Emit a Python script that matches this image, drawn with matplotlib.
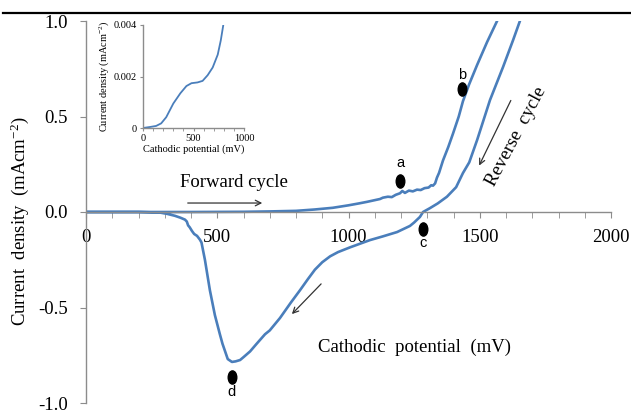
import matplotlib
matplotlib.use("Agg")
import matplotlib.pyplot as plt
import numpy as np
from matplotlib.lines import Line2D
from matplotlib.path import Path
from matplotlib.transforms import Affine2D
from matplotlib.ticker import MultipleLocator


plt.rcParams["font.family"] = ["Liberation Serif", "DejaVu Serif"]
plt.rcParams["mathtext.fontset"] = "custom"
plt.rcParams["mathtext.rm"] = "Liberation Serif"
plt.rcParams["mathtext.it"] = "Liberation Serif:italic"


_BLUE = "#4A7EBB"
_GREY = "#8C8C8C"

# forward sweep (mV, mA cm^-2)
forward_mv = [0, 200, 400, 600, 700, 800, 870, 940, 1000, 1040, 1070, 1100,
              1120, 1131, 1150, 1165, 1180, 1196, 1205, 1215, 1230, 1245,
              1261, 1275, 1290, 1305, 1315, 1322, 1330, 1337, 1345, 1360,
              1380, 1398, 1420, 1436, 1460, 1490, 1528, 1566, 1600, 1660]
forward_j = [0.0, 0.0, 0.0, 0.001, 0.003, 0.006, 0.013, 0.022, 0.035, 0.045,
             0.053, 0.062, 0.068, 0.075, 0.080, 0.078, 0.090, 0.098, 0.110,
             0.100, 0.112, 0.108, 0.117, 0.115, 0.125, 0.128, 0.140, 0.138,
             0.150, 0.180, 0.205, 0.27, 0.34, 0.41, 0.50, 0.58, 0.67, 0.77,
             0.89, 1.00, 1.10, 1.35]

# reverse sweep
reverse_mv = [1700, 1653, 1627, 1589, 1539, 1490, 1460, 1436, 1410, 1375,
              1340, 1310, 1284, 1272, 1250, 1234, 1185, 1130, 1082, 1040,
              1006, 960, 930, 900, 872, 845, 815, 780, 739, 700, 682, 650,
              625, 600, 587, 570, 556, 540, 530, 520, 510, 491, 472, 453,
              440, 434, 423, 412, 404, 395, 389, 384, 377, 360, 339, 310,
              282, 200, 0]
reverse_j = [1.25, 1.00, 0.90, 0.76, 0.586, 0.377, 0.26, 0.204, 0.13, 0.08,
             0.045, 0.02, 0.0, -0.026, -0.055, -0.073, -0.105, -0.128,
             -0.147, -0.168, -0.185, -0.210, -0.232, -0.263, -0.302, -0.352,
             -0.41, -0.475, -0.555, -0.62, -0.64, -0.69, -0.73, -0.76,
             -0.775, -0.782, -0.785, -0.77, -0.73, -0.69, -0.64, -0.54,
             -0.41, -0.25, -0.16, -0.145, -0.125, -0.115, -0.10, -0.08,
             -0.07, -0.05, -0.04, -0.03, -0.02, -0.01, -0.003, 0.0, 0.0]

# inset: start of forward sweep
inset_mv = [0, 70, 130, 180, 230, 300, 370, 430, 480, 540, 590, 640, 690,
            740, 770, 795]
inset_j = [0.0, 0.00004, 0.00008, 0.00018, 0.00042, 0.00095, 0.00135,
           0.00163, 0.00174, 0.00177, 0.00183, 0.00205, 0.00235, 0.00285,
           0.00340, 0.00400]

# marked points a-d
point_names = ["a", "b", "c", "d"]
point_mv = [1196, 1432, 1284, 556]
point_j = [0.162, 0.644, -0.089, -0.864]
label_offsets = [0.095, 0.075, -0.075, -0.08]


def _ellipse_marker():
    return Path.unit_circle().transformed(Affine2D().scale(0.65, 1.0))


def _style_spines(axes):
    for side in ("top", "right"):
        axes.spines[side].set_visible(False)
    for side in ("left", "bottom"):
        axes.spines[side].set_color(_GREY)
        axes.spines[side].set_linewidth(1.0)


fig = plt.figure(figsize=(6.31, 4.13), dpi=100)
ax = fig.add_axes([86 / 631, 10 / 413, 525 / 631, 382 / 413])

ax.plot(forward_mv + reverse_mv, forward_j + reverse_j,
        color=_BLUE, lw=1.9, solid_joinstyle="round")

ax.set_xlim(0, 2000)
ax.set_ylim(-1.0, 1.0)
_style_spines(ax)
ax.spines["bottom"].set_position(("data", 0))
ax.xaxis.set_major_locator(MultipleLocator(500))
ax.xaxis.set_minor_locator(MultipleLocator(100))
ax.set_yticks([-1.0, -0.5, 0.0, 0.5, 1.0])
ax.set_yticklabels(["-1.0", "-0.5", "0.0", "0.5", "1.0"])
ax.tick_params(axis="x", which="both", direction="out", length=4,
               color=_GREY, labelsize=13.5, pad=8.5)
ax.tick_params(axis="y", direction="out", length=4, color=_GREY,
               labelsize=13.5, pad=9)

fig.text(20 / 631, 1 - 221 / 413, "Current  density  (mAcm$^{-2}$)",
         fontsize=13.5, rotation=90, ha="center", va="center")
ax.text(1250, -0.707, "Cathodic  potential  (mV)", fontsize=13.5,
        ha="center", va="center")

ax.text(358, 0.152, "Forward cycle", fontsize=13.5, ha="left", va="center")
ax.annotate("", xy=(682, 0.047), xytext=(377, 0.047),
            arrowprops=dict(arrowstyle="->", color="#333333", lw=0.9))
ax.text(1640, 0.393, "Reverse  cycle", fontsize=13.5, rotation=62,
        ha="center", va="center", rotation_mode="anchor")
ax.annotate("", xy=(1493, 0.23), xytext=(1623, 0.597),
            arrowprops=dict(arrowstyle="->", color="#333333", lw=0.9))
ax.annotate("", xy=(777, -0.545), xytext=(903, -0.366),
            arrowprops=dict(arrowstyle="->", color="#333333", lw=0.9))

ax.plot(point_mv, point_j, linestyle="none", marker=_ellipse_marker(),
        markersize=9.5, color="black")
for name, mv, j, off in zip(point_names, point_mv, point_j, label_offsets):
    ax.text(mv, j + off, name, fontsize=10.5, ha="center", va="center",
            family=["Liberation Sans", "DejaVu Sans"])

inset = fig.add_axes([143 / 631, 285 / 413, 101 / 631, 103 / 413])
inset.plot(inset_mv, inset_j, color=_BLUE, lw=1.3)
inset.set_xlim(0, 1000)
inset.set_ylim(0, 0.004)
_style_spines(inset)
inset.xaxis.set_major_locator(MultipleLocator(500))
inset.xaxis.set_minor_locator(MultipleLocator(100))
inset.set_yticks([0, 0.002, 0.004])
inset.set_yticklabels(["0", "0.002", "0.004"])
inset.tick_params(axis="both", which="both", direction="out", length=2.5,
                  color=_GREY, labelsize=7.5, pad=2)
inset.set_xlabel("Cathodic potential (mV)", fontsize=7.5, labelpad=1)
inset.set_ylabel("Current density (mAcm$^{-2}$)", fontsize=7.5, labelpad=2)
inset.patch.set_alpha(0)

fig.add_artist(Line2D([3 / 631, 1.0], [1 - 13 / 413, 1 - 13 / 413],
                      color="black", lw=1.6))

fig.savefig("out.png", dpi=100)
